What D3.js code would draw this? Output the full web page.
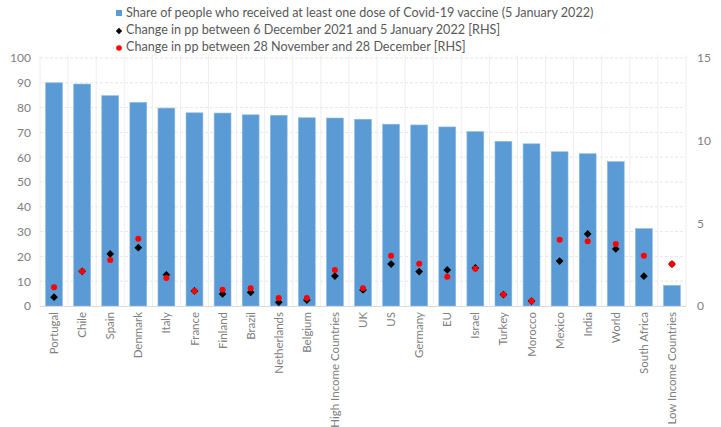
<!DOCTYPE html>
<html><head><meta charset="utf-8">
<script src="https://cdn.jsdelivr.net/npm/d3@7"></script>
<style>body{margin:0;background:#fff}svg{display:block}text{font-family:"Lato","Open Sans",sans-serif}</style>
</head><body><svg id="c" width="721" height="427"></svg>
<script>
const categories = ["Portugal","Chile","Spain","Denmark","Italy","France","Finland","Brazil","Netherlands","Belgium","High Income Countries","UK","US","Germany","EU","Israel","Turkey","Morocco","Mexico","India","World","South Africa","Low Income Countries"];
const shareOneDose = [90.0,89.5,84.8,82.1,79.8,77.9,77.8,77.1,76.9,75.9,75.8,75.3,73.3,73.0,72.2,70.3,66.4,65.4,62.2,61.4,58.2,31.2,8.3];
const changeDecJan = [0.53,2.1,3.15,3.53,1.89,0.91,0.73,0.83,0.22,0.36,1.81,0.97,2.54,2.08,2.18,2.3,0.69,0.30,2.72,4.36,3.45,1.80,2.54];
const changeNovDec = [1.13,2.1,2.78,4.07,1.69,0.91,0.99,1.07,0.48,0.48,2.18,1.07,3.04,2.56,1.77,2.26,0.69,0.30,4.01,3.91,3.75,3.04,2.54];
const leftTicks = [0,10,20,30,40,50,60,70,80,90,100];
const rightTicks = [0,5,10,15];
const legendLabels = ["Share of people who received at least one dose of Covid-19 vaccine (5 January 2022)","Change in pp between 6 December 2021 and 5 January 2022 [RHS]","Change in pp between 28 November and 28 December [RHS]"];

const svg = d3.select("#c");
const L=40, R=686, T=58, B=306;
const x = d3.scaleBand().domain(categories).range([L,R]).paddingInner(0.4).paddingOuter(0.2);
const xs = d3.scaleBand().domain(categories).range([L,R]);
const yL = d3.scaleLinear().domain([0,100]).range([B,T]);
const yR = d3.scaleLinear().domain([0,15]).range([B,T]);

// gridlines
svg.append("g").selectAll("line").data(leftTicks.slice(1)).join("line")
  .attr("x1",L).attr("x2",R).attr("y1",d=>yL(d)).attr("y2",d=>yL(d))
  .attr("stroke","#e6e6e6").attr("stroke-dasharray","3,2");
const bounds = categories.map(c=>xs(c)).concat([R]);
svg.append("g").selectAll("line").data(bounds).join("line")
  .attr("x1",d=>d).attr("x2",d=>d).attr("y1",T-3).attr("y2",B)
  .attr("stroke","#eeeeee");

// bars
svg.append("g").selectAll("rect").data(categories).join("rect")
  .attr("x",c=>x(c)).attr("width",x.bandwidth())
  .attr("y",(c,i)=>yL(shareOneDose[i])).attr("height",(c,i)=>B-yL(shareOneDose[i]))
  .attr("fill","#5b9bd5").attr("stroke","#8db8e3").attr("stroke-width",0.6);

// axis line
svg.append("line").attr("x1",L).attr("x2",R).attr("y1",B+0.5).attr("y2",B+0.5).attr("stroke","#d9d9d9");

// markers
const diamond = d3.symbol().type(d3.symbolSquare).size(30);
svg.append("g").selectAll("path").data(categories).join("path")
  .attr("d",diamond)
  .attr("transform",(c,i)=>`translate(${xs(c)+xs.bandwidth()/2},${yR(changeDecJan[i])}) rotate(45)`)
  .attr("fill","#000");
svg.append("g").selectAll("circle").data(categories).join("circle")
  .attr("cx",c=>xs(c)+xs.bandwidth()/2).attr("cy",(c,i)=>yR(changeNovDec[i])).attr("r",3)
  .attr("fill","#ff0000");

// left axis
const gl = svg.append("g").attr("transform",`translate(${L-9},0)`)
  .call(d3.axisLeft(yL).tickValues(leftTicks).tickSize(0).tickPadding(0));
gl.select(".domain").remove();
gl.selectAll("text").attr("fill","#808080").attr("font-size",12);
// right axis
const gr = svg.append("g").attr("transform",`translate(${R+11},0)`)
  .call(d3.axisRight(yR).tickValues(rightTicks).tickSize(0).tickPadding(0));
gr.select(".domain").remove();
gr.selectAll("text").attr("fill","#808080").attr("font-size",12);

// x labels
const gx = svg.append("g").attr("transform",`translate(0,${B})`)
  .call(d3.axisBottom(xs).tickSize(0).tickPadding(0));
gx.select(".domain").remove();
gx.selectAll("text").attr("fill","#808080").attr("font-size",11.5)
  .attr("transform","translate(0,6) rotate(-90)").attr("text-anchor","end")
  .attr("dy","0.35em").attr("x",0).attr("y",0);

// legend
const lg = svg.append("g");
const ly = [13,30,47];
lg.append("rect").attr("x",116).attr("y",ly[0]-3).attr("width",6).attr("height",6).attr("fill","#5b9bd5");
lg.append("path").attr("d",d3.symbol().type(d3.symbolSquare).size(20)).attr("transform",`translate(119,${ly[1]+1}) rotate(45)`).attr("fill","#000");
lg.append("circle").attr("cx",119).attr("cy",ly[2]+1).attr("r",2.8).attr("fill","#ff0000");
lg.selectAll("text").data(legendLabels).join("text")
  .attr("x",126).attr("y",(d,i)=>ly[i]).attr("dy","0.35em")
  .attr("font-size",12.6).attr("fill","#595959").text(d=>d);
</script></body></html>
